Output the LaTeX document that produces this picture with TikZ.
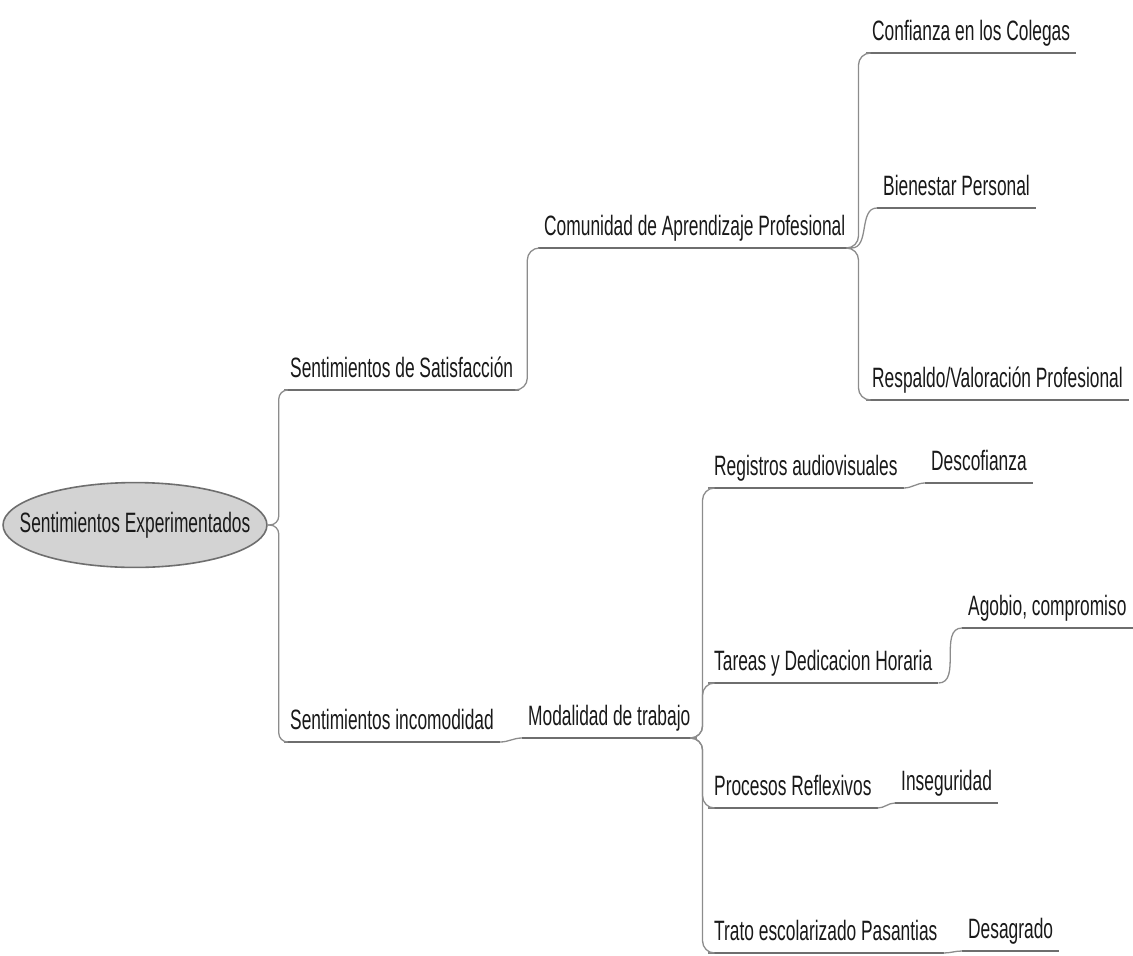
\documentclass[tikz,border=0pt]{standalone}
\usepackage{fontspec}
\setmainfont{Liberation Sans}[FakeStretch=0.62]
\usetikzlibrary{shapes.geometric,positioning}
\definecolor{linegray}{HTML}{6E6E6E}
\definecolor{curvegray}{HTML}{8C8C8C}
\definecolor{rootfill}{HTML}{D3D3D3}
\begin{document}
\begin{tikzpicture}[x=1pt, y=-1pt,
    topic/.style={anchor=south west, inner xsep=6pt, inner ysep=0pt,
      text height=20pt, text depth=12pt, text=black!90,
      font=\fontsize{28}{30}\selectfont},
    rootnode/.style={ellipse, draw=linegray, line width=1.6pt, fill=rootfill,
      inner xsep=-22pt, inner ysep=17pt, text height=20pt, text depth=6pt,
      minimum width=254pt, minimum height=84pt, text=black!90,
      font=\fontsize{28}{30}\selectfont},
    uline/.style={draw=linegray, line width=2pt},
    branch/.style={draw=curvegray, line width=1.3pt, rounded corners=12pt},
    hop/.style={draw=curvegray, line width=1.3pt}]
    \useasboundingbox (0,0) rectangle (1133,956);

    % root
    \node[rootnode] (root) at (135,525) {Sentimientos Experimentados};

    % first level
    \node[topic] (sat) at (284,390) {Sentimientos de Satisfacción};
    \node[topic] (inc) at (284,742) {Sentimientos incomodidad};

    % satisfaccion
    \node[topic] (com) at (538,248) {Comunidad de Aprendizaje Profesional};
    \node[topic] (conf) at (866,53) {Confianza en los Colegas};
    \node[topic] (bien) at (877,208) {Bienestar Personal};
    \node[topic] (resp) at (866,400) {Respaldo/Valoración Profesional};

    % incomodidad
    \node[topic] (mod) at (522,738) {Modalidad de trabajo};
    \node[topic] (reg) at (708,488) {Registros audiovisuales};
    \node[topic] (desc) at (925,483) {Descofianza};
    \node[topic] (tar) at (708,683) {Tareas y Dedicacion Horaria};
    \node[topic] (agob) at (962,628) {Agobio, compromiso};
    \node[topic] (proc) at (708,808) {Procesos Reflexivos};
    \node[topic] (inse) at (895,803) {Inseguridad};
    \node[topic] (trato) at (708,953) {Trato escolarizado Pasantias};
    \node[topic] (desa) at (962,951) {Desagrado};

    % underlines
    \foreach \n in {sat,inc,com,conf,bien,resp,mod,reg,desc,tar,agob,proc,inse,trato,desa}
      \draw[uline] (\n.south west) -- (\n.south east);

    % connectors
    \foreach \n in {sat,inc}
      \draw[branch, rounded corners=9pt] (root.east) -- ++(11,0) |- (\n.south west);
    \draw[branch] (sat.south east) -- ++(8,0) |- (com.south west);
    \foreach \n in {conf,resp}
      \draw[branch] (com.south east) -- ++(7,0) |- (\n.south west);
    \draw[hop] (com.south east) to[out=0, in=180] (bien.south west);
    \draw[hop] (inc.south east) to[out=0, in=180] (mod.south west);
    \foreach \n in {reg,tar,proc,trato}
      \draw[branch] (mod.south east) -- ++(6,0) |- (\n.south west);
    \draw[hop] (reg.south east) to[out=0, in=180] (desc.south west);
    \draw[hop] (tar.south east) to[out=0, in=180] (agob.south west);
    \draw[hop] (proc.south east) to[out=0, in=180] (inse.south west);
    \draw[hop] (trato.south east) to[out=0, in=180] (desa.south west);
\end{tikzpicture}
\end{document}
